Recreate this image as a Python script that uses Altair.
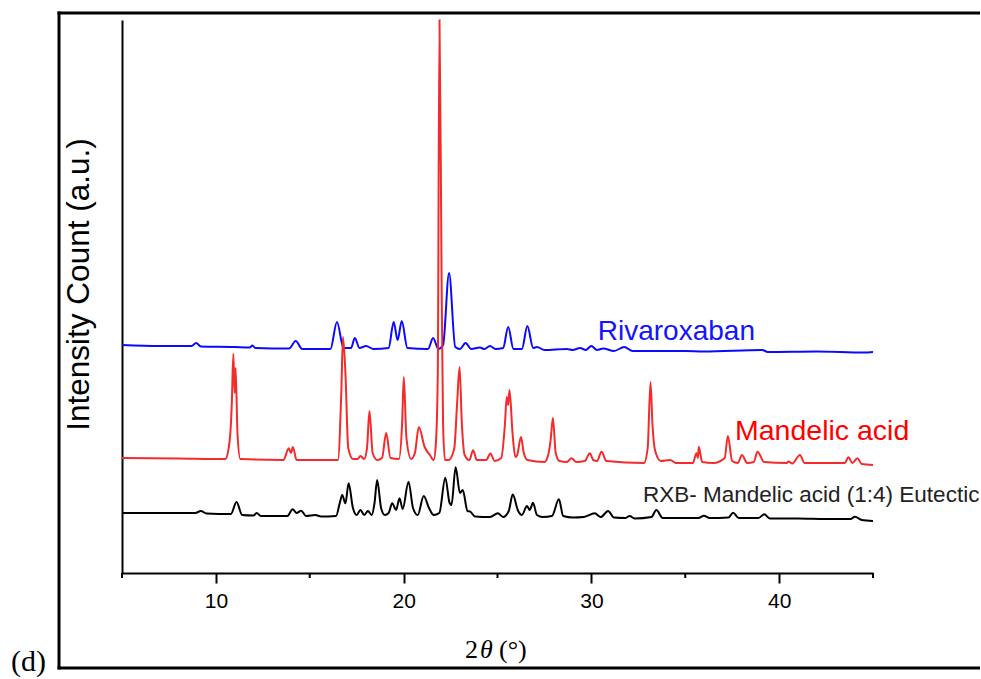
import altair as alt
import pandas as pd

# ---- data (2theta in degrees, intensity in a.u.) ----
rivaroxaban_x = [5.0, 7.0, 8.7, 8.95, 9.2, 11.0, 11.8, 11.95, 12.1, 13.9, 14.25, 14.6, 16.1, 16.45, 16.8,
                 17.2, 17.4, 17.65, 18.0, 18.4, 19.2, 19.47, 19.68, 19.9, 20.2, 21.3, 21.57, 21.85, 22.1,
                 22.42, 22.75, 23.0, 23.3, 23.6, 24.06, 24.3, 24.6, 24.9, 25.3, 25.57, 25.85, 26.3, 26.59,
                 26.9, 27.1, 27.5, 28.7, 29.0, 29.4, 29.7, 30.0, 30.3, 30.63, 31.2, 31.75, 32.2, 35.0,
                 36.0, 39.1, 39.4, 42.0, 44.5, 45.0]
rivaroxaban_y = [228, 227, 227, 230, 226.5, 226, 225.5, 227.5, 225, 224.5, 232, 224, 224, 251, 225,
                 225, 235, 225, 227, 224, 225, 251, 233, 252, 225, 224, 235, 224, 228,
                 300, 226, 224, 230, 224, 225.5, 224, 227, 224, 225, 246, 224, 224, 247,
                 225, 226, 223, 224, 223, 225, 223, 227, 223, 224.5, 222, 226, 222, 222,
                 221.5, 223, 221, 221.5, 220.5, 221]

mandelic_x = [5.0, 8.0, 10.5, 10.72, 10.85, 10.93, 11.0, 11.05, 11.15, 11.3, 13.6, 13.88, 14.0, 14.1,
              14.3, 16.5, 16.68, 16.77, 16.9, 17.05, 17.3, 17.55, 17.7, 17.9, 18.05, 18.18, 18.35,
              18.6, 18.85, 19.07, 19.3, 19.75, 19.92, 20.01, 20.15, 20.4, 20.6, 20.81, 21.12, 21.4,
              21.6, 21.72, 21.82, 21.91, 22.02, 22.1, 22.2, 22.4, 22.7, 22.85, 22.98, 23.1, 23.25,
              23.5, 23.7, 23.9, 24.4, 24.62, 24.85, 25.2, 25.4, 25.49, 25.57, 25.64, 25.8, 25.95,
              26.05, 26.25, 26.4, 26.6, 27.5, 27.7, 27.83, 27.95, 28.1, 28.3, 28.7, 28.94, 29.2,
              29.65, 29.92, 30.1, 30.3, 30.54, 30.8, 32.8, 33.0, 33.15, 33.25, 33.4, 33.7, 34.2,
              34.5, 35.4, 35.6, 35.67, 35.72, 35.9, 36.5, 37.1, 37.27, 37.5, 37.8, 38.02, 38.3,
              38.65, 38.85, 39.2, 40.4, 40.5, 40.7, 41.11, 41.35, 43.5, 43.69, 43.9, 44.17, 44.4, 45.0]
mandelic_y = [115, 114.5, 114, 130, 170, 219, 180, 205, 140, 114, 113, 124.7, 120, 126,
              113, 113, 180, 236, 200, 125, 114, 114, 117, 114, 125, 162, 120,
              113, 115, 140, 115, 114, 150, 196, 135, 114, 120, 146, 126, 118,
              113, 130, 200, 553, 300, 150, 113, 113, 125, 170, 206, 150, 118,
              113, 122.7, 113, 113, 119.5, 112, 115, 150, 176, 168, 183, 140, 116,
              118, 136, 120, 113, 111, 118, 133, 155, 120, 112, 111, 114.7, 111,
              112, 119.7, 113, 112, 121.3, 112, 110, 125, 191, 150, 122, 112, 113,
              110, 110, 119.7, 115, 126.3, 111, 110, 115, 137, 112, 110, 118, 110,
              111, 121.3, 111, 110, 111.5, 109.5, 118, 110, 110, 115.7, 110, 114.7, 109, 108]

eutectic_x = [5.0, 8.9, 9.2, 9.5, 10.8, 11.1, 11.4, 12.0, 12.17, 12.4, 13.8, 14.09, 14.3, 14.54, 14.8,
              15.3, 15.6, 16.4, 16.6, 16.73, 16.9, 17.07, 17.3, 17.5, 17.7, 17.9, 18.1, 18.3, 18.45,
              18.59, 18.8, 19.0, 19.2, 19.39, 19.6, 19.78, 19.95, 20.26, 20.5, 20.75, 21.07, 21.35,
              21.6, 21.9, 22.22, 22.45, 22.55, 22.77, 23.0, 23.15, 23.4, 23.55, 23.8, 24.6, 25.02,
              25.3, 25.6, 25.81, 26.1, 26.3, 26.57, 26.72, 26.89, 27.1, 27.4, 27.9, 28.27, 28.5,
              29.0, 29.6, 30.18, 30.5, 30.89, 31.2, 31.8, 32.04, 32.3, 33.2, 33.46, 33.8, 35.7,
              35.99, 36.3, 37.3, 37.55, 37.85, 38.9, 39.21, 39.5, 41.0, 42.5, 43.8, 44.04, 44.4, 45.0]
eutectic_y = [60, 60, 62, 59.5, 59, 71, 58, 57.5, 60, 57, 57, 63.7, 60, 62.3, 57,
              58, 56.5, 57, 70, 78, 69.7, 89.7, 65, 58, 63, 58, 62, 58, 70,
              93, 65, 58, 60, 69.7, 63, 74.7, 64, 91.3, 65, 58, 77, 65,
              58, 60, 95.3, 70, 68, 105.7, 80, 83, 62, 61.3, 56.5, 56, 59.7,
              56, 62, 78.5, 62, 58, 67, 63, 70.3, 58, 56, 57, 73.7, 57,
              55.5, 56, 59.7, 56, 62, 55.5, 55, 57, 54.5, 56, 63, 55, 55,
              57.3, 55, 55.5, 60.3, 55, 55, 58.7, 54.5, 54.5, 54, 54, 56.3, 53, 52]

major_ticks = [10, 20, 30, 40]
minor_ticks = [5, 15, 25, 35, 45]

label_text = ["Rivaroxaban", "Mandelic acid", "RXB- Mandelic acid (1:4) Eutectic"]
label_x = [30.34, 37.65, 32.75]
label_y = [233, 133, 71.3]
label_color = ["#1414ff", "#ff0000", "#222222"]
label_size = [28, 28.5, 22.5]

# ---- chart ----
W, H = 751, 553
SANS = "Liberation Sans"
SERIF = "Liberation Serif"

x_scale = alt.Scale(domain=[5, 45], nice=False, zero=False)
y_scale = alt.Scale(domain=[0, 553], nice=False, zero=False)

x_axis = alt.Axis(values=major_ticks, title=None, grid=False, domainColor="black", domainWidth=2,
                  tickColor="black", tickWidth=2, tickSize=10, labelFont=SANS, labelFontSize=21,
                  labelColor="black", labelPadding=7, labelFlush=False)
y_axis = alt.Axis(title="Intensity Count (a.u.)", grid=False, ticks=False, labels=False,
                  domainColor="black", domainWidth=2, titleFont=SANS, titleFontSize=31.5,
                  titleFontWeight="normal", titleColor="black", titleAngle=270,
                  titleAlign="center", titleBaseline="middle", titleX=-43, titleY=264)


def trace(xs, ys, color):
    d = pd.DataFrame({"two_theta": xs, "intensity": ys})
    return alt.Chart(d).mark_line(color=color, strokeWidth=2, interpolate="monotone").encode(
        x=alt.X("two_theta:Q", scale=x_scale, axis=x_axis),
        y=alt.Y("intensity:Q", scale=y_scale, axis=y_axis),
    )


blue = trace(rivaroxaban_x, rivaroxaban_y, "#0a0aff")
red = trace(mandelic_x, mandelic_y, "#f52a2a")
black = trace(eutectic_x, eutectic_y, "#000000")

minor = alt.Chart(pd.DataFrame({"t": minor_ticks})).mark_rule(color="black", strokeWidth=2).encode(
    x=alt.X("t:Q", scale=x_scale, axis=x_axis),
    y=alt.value(H), y2=alt.value(H + 5),
)

labels_df = pd.DataFrame({"text": label_text, "x": label_x, "y": label_y,
                          "col": label_color, "fs": label_size})
labels = alt.Chart(labels_df).mark_text(align="left", baseline="alphabetic", font=SANS).encode(
    x=alt.X("x:Q", scale=x_scale, axis=x_axis),
    y=alt.Y("y:Q", scale=y_scale, axis=y_axis),
    text="text:N",
    color=alt.Color("col:N", scale=None),
    size=alt.Size("fs:Q", scale=None),
)

one = pd.DataFrame({"a": [0]})
frame_top = alt.Chart(one).mark_rule(color="black", strokeWidth=3).encode(
    x=alt.value(-64.5), x2=alt.value(858), y=alt.value(-7))
frame_left = alt.Chart(one).mark_rule(color="black", strokeWidth=3).encode(
    x=alt.value(-63), y=alt.value(-8.5), y2=alt.value(649.5))
frame_bottom = alt.Chart(one).mark_rule(color="black", strokeWidth=3).encode(
    x=alt.value(-64.5), x2=alt.value(858), y=alt.value(648))

t_2 = alt.Chart(one).mark_text(text="2", font=SERIF, fontSize=26, align="left",
                               baseline="alphabetic", color="black").encode(
    x=alt.value(343), y=alt.value(638))
t_theta = alt.Chart(one).mark_text(text="θ", font=SERIF, fontSize=26, fontStyle="italic",
                                   align="left", baseline="alphabetic", color="black").encode(
    x=alt.value(358), y=alt.value(638))
t_deg = alt.Chart(one).mark_text(text="(°)", font=SERIF, fontSize=26, align="left",
                                 baseline="alphabetic", color="black").encode(
    x=alt.value(377), y=alt.value(638))
t_d = alt.Chart(one).mark_text(text="(d)", font=SERIF, fontSize=30, align="left",
                               baseline="alphabetic", color="black").encode(
    x=alt.value(-111), y=alt.value(651))

chart = alt.layer(frame_top, frame_left, frame_bottom, blue, red, black, minor, labels,
                  t_2, t_theta, t_deg, t_d).resolve_scale(
    color="independent"
).properties(
    width=W, height=H,
    autosize=alt.AutoSizeParams(type="none"),
    padding={"left": 122, "top": 20, "right": 107, "bottom": 106},
    background="white",
).configure_view(strokeWidth=0)

chart.save("out.html", embed_options={"renderer": "svg", "actions": False})
